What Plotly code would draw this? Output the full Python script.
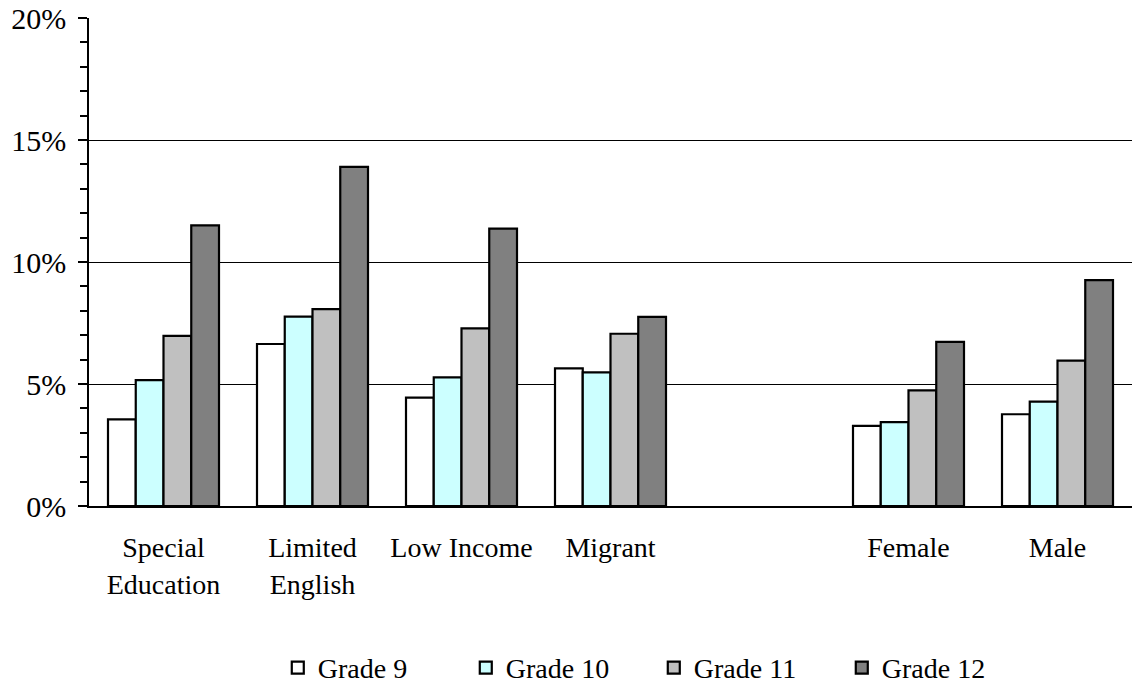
import plotly.graph_objects as go

categories = ["Special<br>Education", "Limited<br>English", "Low Income", "Migrant", " ", "Female", "Male"]
grade9 = [3.55, 6.64, 4.44, 5.64, None, 3.28, 3.76]
grade10 = [5.16, 7.76, 5.27, 5.48, None, 3.44, 4.28]
grade11 = [6.97, 8.07, 7.28, 7.06, None, 4.74, 5.96]
grade12 = [11.5, 13.9, 11.37, 7.75, None, 6.73, 9.26]
series_names = ["Grade 9", "Grade 10", "Grade 11", "Grade 12"]
colors = ["#FFFFFF", "#CCFFFF", "#C0C0C0", "#808080"]

font_family = "Liberation Serif, Times New Roman, serif"

fig = go.Figure()
for name, vals, col in zip(series_names, [grade9, grade10, grade11, grade12], colors):
    fig.add_trace(go.Bar(
        x=categories, y=vals, name=name,
        marker=dict(color=col, line=dict(color="black", width=2.2)),
    ))

fig.update_layout(
    width=1133, height=685,
    margin=dict(l=89, r=1, t=18, b=179),
    paper_bgcolor="white", plot_bgcolor="white",
    barmode="group", bargap=0.255, bargroupgap=0,
    font=dict(family=font_family, size=28, color="black"),
    showlegend=True,
    legend=dict(
        orientation="h", xanchor="left", x=0.181,
        yref="container", yanchor="middle", y=0.025,
        font=dict(family=font_family, size=28, color="black"),
        entrywidth=143, entrywidthmode="pixels",
        itemwidth=30, traceorder="normal",
    ),
)

fig.update_xaxes(
    type="category", range=[-0.5, 6.5],
    showline=True, linecolor="black", linewidth=1.5,
    ticks="", showgrid=False,
    tickfont=dict(family=font_family, size=28, color="black"),
    ticklabelstandoff=16,
)

fig.update_yaxes(
    range=[0, 20], dtick=5, ticksuffix="%",
    showline=True, linecolor="black", linewidth=1.5,
    ticks="outside", ticklen=9, tickcolor="black", tickwidth=1.5,
    showgrid=True, gridcolor="black", gridwidth=1,
    zeroline=False,
    minor=dict(dtick=1, ticks="outside", ticklen=7, tickcolor="black", tickwidth=1.5, showgrid=False),
    tickfont=dict(family=font_family, size=30, color="black"),
    ticklabelstandoff=6,
)

fig.write_html("out.html")
